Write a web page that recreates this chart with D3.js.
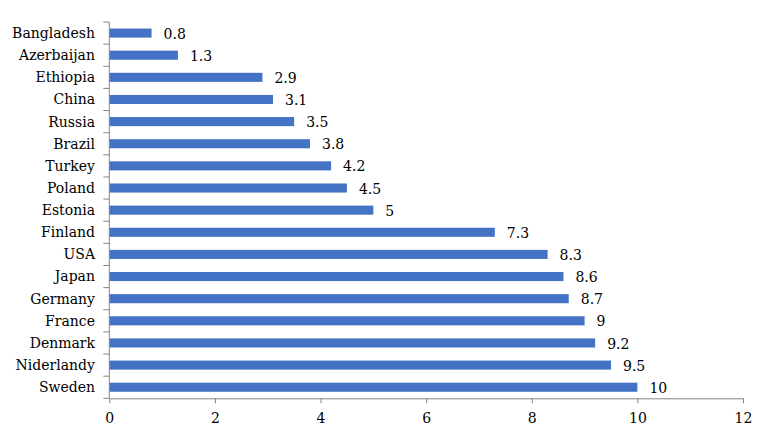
<!DOCTYPE html>
<html>
<head>
<meta charset="utf-8">
<script src="https://cdn.jsdelivr.net/npm/d3@7"></script>
<style>
  body { margin: 0; background: #fff; }
  svg, svg text { font-family: "DejaVu Serif", serif !important; }
</style>
</head>
<body>
<div class="wrapper"></div>
<script>
const countries = ['Bangladesh', 'Azerbaijan', 'Ethiopia', 'China', 'Russia', 'Brazil', 'Turkey',
  'Poland', 'Estonia', 'Finland', 'USA', 'Japan', 'Germany', 'France', 'Denmark', 'Niderlandy', 'Sweden']
const values = [0.8, 1.3, 2.9, 3.1, 3.5, 3.8, 4.2, 4.5, 5, 7.3, 8.3, 8.6, 8.7, 9, 9.2, 9.5, 10]
const xTicks = [0, 2, 4, 6, 8, 10, 12]

const width = 774,
  height = 441,
  margin = { top: 22, left: 109.3, right: 31, bottom: 42.7 }

const axisColor = '#868686'
const fontSize = '14px'

const svg = d3.select('.wrapper')
  .append('svg')
  .attr('width', width)
  .attr('height', height)

const x = d3.scaleLinear()
  .domain([0, 12])
  .range([margin.left, width - margin.right])

const y = d3.scaleBand()
  .domain(countries)
  .range([margin.top, height - margin.bottom])
  .paddingInner(0.59)
  .paddingOuter(0.295)

// bars
svg.selectAll('.bar')
  .data(values)
  .enter().append('rect')
  .attr('class', 'bar')
  .attr('x', x(0))
  .attr('y', (d, i) => y(countries[i]))
  .attr('width', d => x(d) - x(0))
  .attr('height', y.bandwidth())
  .attr('fill', '#4472C4')

// value labels
svg.selectAll('.val')
  .data(values)
  .enter().append('text')
  .attr('class', 'val')
  .attr('x', d => x(d) + 12)
  .attr('y', (d, i) => y(countries[i]) + y.bandwidth() / 2)
  .attr('dy', '0.4em')
  .style('font-size', fontSize)
  .attr('fill', '#000')
  .text(d => d)

// category labels
svg.selectAll('.cat')
  .data(countries)
  .enter().append('text')
  .attr('class', 'cat')
  .attr('x', 95)
  .attr('y', d => y(d) + y.bandwidth() / 2)
  .attr('dy', '0.35em')
  .attr('text-anchor', 'end')
  .style('font-size', fontSize)
  .attr('fill', '#000')
  .text(d => d)

// y axis line + ticks between categories
const bottomY = height - margin.bottom
svg.append('line')
  .attr('x1', x(0)).attr('x2', x(0))
  .attr('y1', margin.top).attr('y2', bottomY)
  .attr('stroke', axisColor)

svg.selectAll('.ytick')
  .data(d3.range(countries.length + 1))
  .enter().append('line')
  .attr('class', 'ytick')
  .attr('x1', x(0) - 6).attr('x2', x(0))
  .attr('y1', i => margin.top + i * y.step())
  .attr('y2', i => margin.top + i * y.step())
  .attr('stroke', axisColor)

// x axis
const xAxis = svg.append('g')
  .attr('transform', `translate(0, ${bottomY})`)
  .call(d3.axisBottom(x).tickValues(xTicks).tickSize(5).tickPadding(10).tickSizeOuter(0))

xAxis.select('.domain').attr('stroke', axisColor)
xAxis.selectAll('.tick line').attr('stroke', axisColor)
xAxis.selectAll('.tick text')
  .style('font-size', fontSize)
  .attr('fill', '#000')
</script>
</body>
</html>
